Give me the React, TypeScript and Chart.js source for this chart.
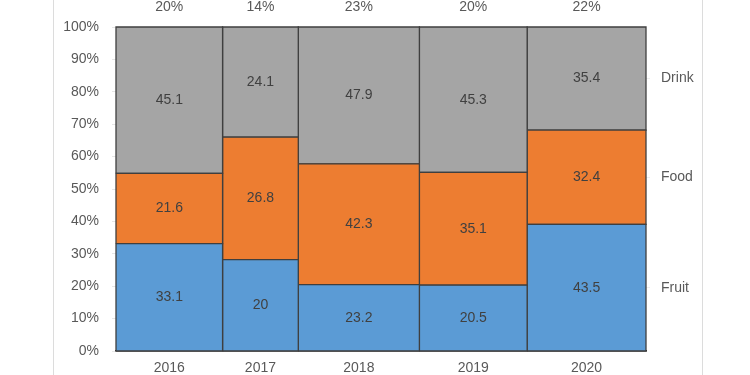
import React, { useEffect, useRef } from "react";
import { Chart, registerables } from "chart.js";

Chart.register(...registerables);

const years = ["2016", "2017", "2018", "2019", "2020"];
const fruit = [33.1, 20, 23.2, 20.5, 43.5];
const food = [21.6, 26.8, 42.3, 35.1, 32.4];
const drink = [45.1, 24.1, 47.9, 45.3, 35.4];
const seriesNames = ["Fruit", "Food", "Drink"];
const seriesColors = ["#5b9bd5", "#ed7d31", "#a5a5a5"];
const widthLabels = ["20%", "14%", "23%", "20%", "22%"];
const yTickStep = 10;

const FONT = "'Liberation Sans', Arial, sans-serif";

export default function App() {
  const ref = useRef<HTMLCanvasElement | null>(null);

  useEffect(() => {
    document.body.style.margin = "0";
    const series = [fruit, food, drink];
    const totals = years.map((_, i) => series.reduce((a, s) => a + s[i], 0));
    const grand = totals.reduce((a, b) => a + b, 0);
    const edges: number[] = [0];
    totals.forEach((t) => edges.push(edges[edges.length - 1] + t));
    const centers = years.map((_, i) => (edges[i] + edges[i + 1]) / 2);

    type Rect = { x0: number; x1: number; lo: number; hi: number; v: number; s: number; col: number };
    const rects: Rect[] = [];
    years.forEach((_, i) => {
      let acc = 0;
      series.forEach((s, si) => {
        const lo = (acc / totals[i]) * 100;
        acc += s[i];
        const hi = (acc / totals[i]) * 100;
        rects.push({ x0: edges[i], x1: edges[i + 1], lo, hi, v: s[i], s: si, col: i });
      });
    });

    const last = years.length - 1;
    const rightTicks = rects.filter((r) => r.col === last).map((r) => (r.lo + r.hi) / 2);

    const datasets = rects.map((r) => ({
      label: seriesNames[r.s] + " " + years[r.col],
      data: [
        { x: r.x0, y: r.lo },
        { x: r.x0, y: r.hi },
        { x: r.x1, y: r.hi },
        { x: r.x1, y: r.lo },
        { x: r.x0, y: r.lo },
      ],
      showLine: true,
      fill: "shape",
      backgroundColor: seriesColors[r.s],
      borderColor: "#3f3f3f",
      borderWidth: 1.3,
      pointRadius: 0,
      pointHoverRadius: 0,
      tension: 0,
      clip: 4,
    }));

    const labelPlugin = {
      id: "segLabels",
      afterDatasetsDraw(chart: any) {
        const { ctx, scales } = chart;
        ctx.save();
        ctx.font = `14px ${FONT}`;
        ctx.fillStyle = "#404040";
        ctx.textAlign = "center";
        ctx.textBaseline = "middle";
        rects.forEach((r) => {
          const x = scales.x.getPixelForValue((r.x0 + r.x1) / 2);
          const y = scales.y.getPixelForValue((r.lo + r.hi) / 2);
          ctx.fillText(String(r.v), x, y);
        });
        ctx.restore();
      },
    };

    const tickFont = { family: FONT, size: 14 };
    const chart = new Chart(ref.current as HTMLCanvasElement, {
      type: "scatter",
      data: { datasets: datasets as any },
      options: {
        animation: false,
        responsive: false,
        events: [],
        layout: { padding: 0 },
        plugins: { legend: { display: false }, tooltip: { enabled: false } },
        scales: {
          x: {
            type: "linear",
            position: "bottom",
            min: 0,
            max: grand,
            afterBuildTicks: (s: any) => {
              s.ticks = centers.map((v) => ({ value: v }));
            },
            afterFit: (s: any) => {
              s.height = 24;
            },
            ticks: {
              autoSkip: false,
              maxRotation: 0,
              padding: 9,
              color: "#595959",
              font: tickFont,
              callback: (_v: any, i: number) => years[i],
            },
            grid: { display: false, drawTicks: false },
            border: { display: true, color: "#262626", width: 1.5 },
          },
          x2: {
            type: "linear",
            position: "top",
            min: 0,
            max: grand,
            afterBuildTicks: (s: any) => {
              s.ticks = centers.map((v) => ({ value: v }));
            },
            afterFit: (s: any) => {
              s.height = 27;
            },
            ticks: {
              autoSkip: false,
              maxRotation: 0,
              padding: 11,
              color: "#595959",
              font: tickFont,
              callback: (_v: any, i: number) => widthLabels[i],
            },
            grid: { display: false, drawTicks: false },
            border: { display: false },
          },
          y: {
            type: "linear",
            position: "left",
            min: 0,
            max: 100,
            afterFit: (s: any) => {
              s.width = 116;
            },
            ticks: {
              stepSize: yTickStep,
              padding: 13,
              color: "#595959",
              font: tickFont,
              callback: (v: any) => v + "%",
            },
            grid: { drawOnChartArea: false, drawTicks: true, tickLength: 4, color: "#e6e6e6" },
            border: { display: false },
          },
          y2: {
            type: "linear",
            position: "right",
            min: 0,
            max: 100,
            afterBuildTicks: (s: any) => {
              s.ticks = rightTicks.map((v) => ({ value: v }));
            },
            afterFit: (s: any) => {
              s.width = 104;
            },
            ticks: {
              autoSkip: false,
              padding: 11,
              color: "#595959",
              font: tickFont,
              callback: (_v: any, i: number) => seriesNames[i],
            },
            grid: { drawOnChartArea: false, drawTicks: true, tickLength: 4, color: "#eeeeee" },
            border: { display: false },
          },
        },
      } as any,
      plugins: [labelPlugin],
    });
    return () => chart.destroy();
  }, []);

  return (
    <div style={{ position: "relative", width: 750, height: 375, background: "#fff" }}>
      <canvas ref={ref} width={750} height={375} style={{ display: "block" }} />
      <div
        style={{
          position: "absolute",
          left: 53,
          top: 0,
          width: 648,
          height: 375,
          borderLeft: "1px solid #dcdcdc",
          borderRight: "1px solid #dcdcdc",
          pointerEvents: "none",
        }}
      />
    </div>
  );
}
